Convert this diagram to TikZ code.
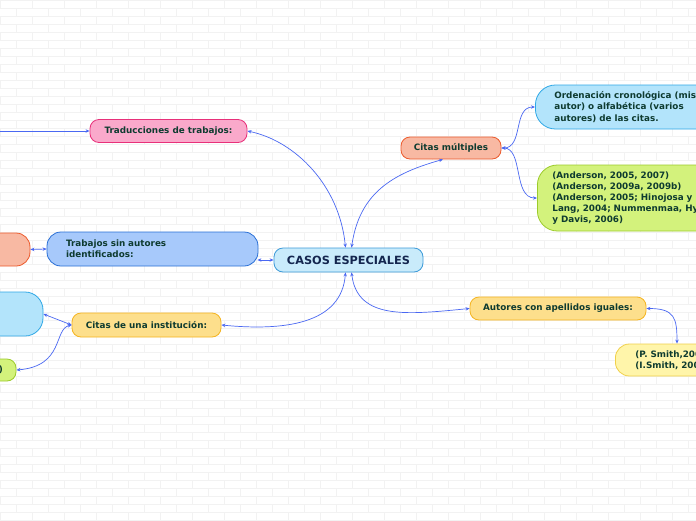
\documentclass[tikz,border=0pt]{standalone}
\usepackage{fontspec}
\setmainfont{DejaVu Sans}
\usetikzlibrary{arrows.meta}
\definecolor{txt}{HTML}{0E3B30}
\definecolor{navy}{HTML}{14264F}
\definecolor{conncol}{HTML}{4A68F2}
\definecolor{brickcol}{HTML}{F2F2F2}
\definecolor{mainfill}{HTML}{C9EBFB}\definecolor{maindraw}{HTML}{3C9AD8}
\definecolor{pinkfill}{HTML}{FAA9CB}\definecolor{pinkdraw}{HTML}{E8307A}
\definecolor{bluefill}{HTML}{A7C9FB}\definecolor{bluedraw}{HTML}{2A6FD6}
\definecolor{yelfill}{HTML}{FDDF8C}\definecolor{yeldraw}{HTML}{F5B420}
\definecolor{orfill}{HTML}{F8B9A3}\definecolor{ordraw}{HTML}{EC5A2C}
\definecolor{skyfill}{HTML}{B3E4FB}\definecolor{skydraw}{HTML}{2FA8E6}
\definecolor{grfill}{HTML}{D3F27C}\definecolor{grdraw}{HTML}{9CCB2B}
\definecolor{lyfill}{HTML}{FFF5AA}\definecolor{lydraw}{HTML}{F0D04A}
\tikzset{
  box/.style={draw, line width=0.8pt, inner sep=0pt, text=txt,
    font=\bfseries\fontsize{8.8}{11.3}\selectfont},
  conn/.style={draw=conncol, line width=0.7pt,
    {Stealth[length=4pt,width=3.4pt]}-{Stealth[length=4pt,width=3.4pt]}},
  brick/.style={draw=brickcol, line width=0.5pt}
}
\begin{document}
\begin{tikzpicture}[x=1pt,y=-1pt]
\useasboundingbox (0,0) rectangle (696,520);
\clip (0,0) rectangle (696,520);
\fill[white] (0,0) rectangle (696,520);
\foreach \r in {0,...,65} {
  \draw[brick] (0,\r*8) -- (696,\r*8);
  \pgfmathsetmacro\off{mod(\r,2)*16}
  \foreach \c in {0,...,22} \draw[brick] (\off+\c*32,\r*8) -- ++(0,8);
}

% main
\node[box, fill=mainfill, draw=maindraw, rounded corners=9pt, minimum width=149pt, minimum height=24pt, text=navy, font=\bfseries\fontsize{11.3}{13}\selectfont] (casos) at (348.5,260) {CASOS ESPECIALES};

% left side
\node[box, fill=pinkfill, draw=pinkdraw, rounded corners=9pt, minimum width=157pt, minimum height=23pt] (trad) at (168.5,131) {Traducciones de trabajos:};
\coordinate (tradsrc) at (-6,131);
\node[box, fill=bluefill, draw=bluedraw, rounded corners=14pt, text width=173pt, inner xsep=19pt, minimum height=34pt, align=left] (trab) at (152.5,249) {Trabajos sin autores\\identificados:};
\node[box, fill=orfill, draw=ordraw, rounded corners=14pt, minimum width=90pt, minimum height=33pt] (orleft) at (-15,249.5) {};
\node[box, fill=yelfill, draw=yeldraw, rounded corners=9pt, minimum width=149pt, minimum height=24pt] (inst) at (146.5,325) {Citas de una institución:};
\node[box, fill=skyfill, draw=skydraw, rounded corners=18pt, minimum width=140pt, minimum height=44pt] (skyleft) at (-27,314) {};
\node[box, fill=grfill, draw=grdraw, rounded corners=9pt, text width=74pt, inner xsep=13pt, minimum height=22pt, align=right] (grleft) at (-34,370) {)};

% right side
\node[box, fill=orfill, draw=ordraw, rounded corners=9pt, minimum width=100pt, minimum height=22pt] (mult) at (451,148) {Citas múltiples};
\node[box, fill=skyfill, draw=skydraw, rounded corners=20pt, text width=190pt, inner xsep=19pt, minimum height=44pt, align=left, anchor=west] (orden) at (535,107) {Ordenación cronológica (mismo\\autor) o alfabética (varios\\autores) de las citas.};
\node[box, fill=grfill, draw=grdraw, rounded corners=20pt, text width=200pt, inner xsep=15pt, minimum height=66pt, align=left, anchor=west, font=\bfseries\fontsize{8.8}{11}\selectfont] (ander) at (537,198) {\raisebox{-2pt}{}(Anderson, 2005, 2007)\\(Anderson, 2009a, 2009b)\\(Anderson, 2005; Hinojosa y\\Lang, 2004; Nummenmaa, Hyönä\\y Davis, 2006)};
\node[box, fill=yelfill, draw=yeldraw, rounded corners=9pt, minimum width=176pt, minimum height=23pt] (apell) at (558,308.5) {Autores con apellidos iguales:};
\node[box, fill=lyfill, draw=lydraw, rounded corners=14pt, text width=120pt, inner xsep=20pt, minimum height=32pt, align=left, anchor=west] (smith) at (615,360) {(P. Smith,2003)\\(I.Smith, 2005)};

% connectors
\draw[conn] (tradsrc) -- (trad.west);
\draw[conn] (trad.east) .. controls +(48,10) and +(-6,-62) .. ([xshift=-3pt]casos.north);
\draw[conn] ([xshift=3pt]casos.north) .. controls +(8,-55) and +(-50,14) .. ([xshift=-8pt]mult.south);
\draw[conn] (casos.west) -- ([xshift=-1pt]casos.west -| trab.east);
\draw[conn] (trab.west) -- (orleft.east);
\draw[conn] ([xshift=-3pt]casos.south) .. controls +(-4,52) and +(62,6) .. (inst.east);
\draw[conn] ([xshift=3pt]casos.south) .. controls +(6,48) and +(-62,6) .. (apell.west);
\draw[conn] (inst.west) -- (skyleft.east);
\draw[conn] (inst.west) .. controls +(-18,4) and +(48,-4) .. (grleft.east);
\draw[conn] (mult.east) .. controls +(22,0) and +(-22,0) .. (orden.west);
\draw[conn] (mult.east) .. controls +(22,0) and +(-24,0) .. (ander.west);
\draw[conn] (apell.east) .. controls +(28,0) and +(0,-26) .. ([xshift=62pt]smith.north west);
\end{tikzpicture}
\end{document}
